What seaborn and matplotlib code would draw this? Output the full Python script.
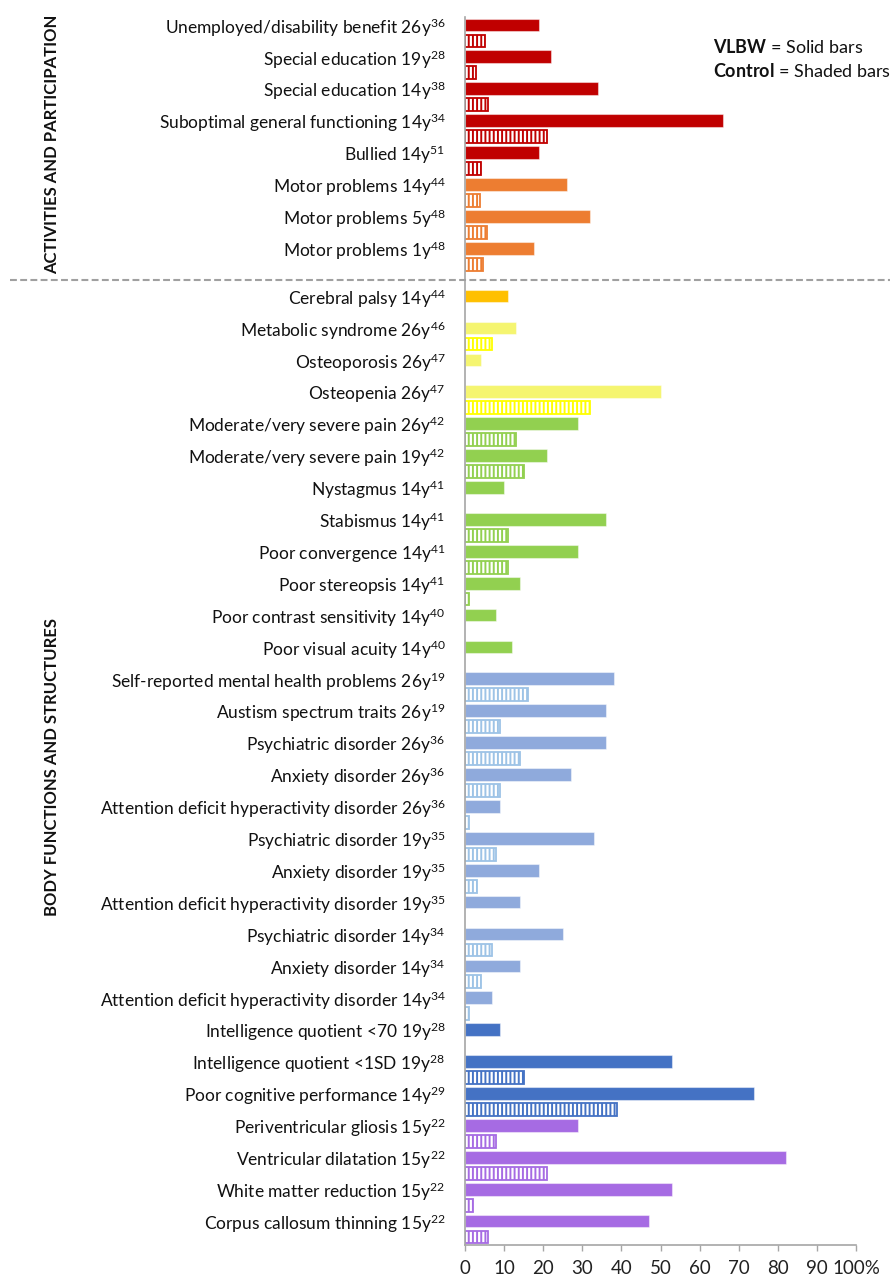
import numpy as np
import pandas as pd
import matplotlib
matplotlib.use("Agg")
import matplotlib.pyplot as plt
import matplotlib.transforms as mtransforms
from matplotlib.lines import Line2D
import seaborn as sns

# ---- data -------------------------------------------------------------
outcomes = [
    "Unemployed/disability benefit 26y", "Special education 19y", "Special education 14y",
    "Suboptimal general functioning 14y", "Bullied 14y", "Motor problems 14y",
    "Motor problems 5y", "Motor problems 1y", "Cerebral palsy 14y",
    "Metabolic syndrome 26y", "Osteoporosis 26y", "Osteopenia 26y",
    "Moderate/very severe pain 26y", "Moderate/very severe pain 19y", "Nystagmus 14y",
    "Stabismus 14y", "Poor convergence 14y", "Poor stereopsis 14y",
    "Poor contrast sensitivity 14y", "Poor visual acuity 14y",
    "Self-reported mental health problems 26y", "Austism spectrum traits 26y",
    "Psychiatric disorder 26y", "Anxiety disorder 26y",
    "Attention deficit hyperactivity disorder 26y", "Psychiatric disorder 19y",
    "Anxiety disorder 19y", "Attention deficit hyperactivity disorder 19y",
    "Psychiatric disorder 14y", "Anxiety disorder 14y",
    "Attention deficit hyperactivity disorder 14y", "Intelligence quotient <70 19y",
    "Intelligence quotient <1SD 19y", "Poor cognitive performance 14y",
    "Periventricular gliosis 15y", "Ventricular dilatation 15y",
    "White matter reduction 15y", "Corpus callosum thinning 15y",
]
references = [36, 28, 38, 34, 51, 44, 48, 48, 44, 46, 47, 47, 42, 42, 41, 41, 41, 41, 40, 40,
              19, 19, 36, 36, 36, 35, 35, 35, 34, 34, 34, 28, 28, 29, 22, 22, 22, 22]
vlbw = [19, 22, 34, 66, 19, 26, 32, 17.6, 11, 13, 4, 50, 29, 21, 10, 36, 29, 14, 8, 12,
        38, 36, 36, 27, 9, 33, 19, 14, 25, 14, 7, 9, 53, 74, 29, 82, 53, 47]
control = [5, 2.7, 6, 21, 4, 3.8, 5.7, 4.5, None, 7, None, 32, 13, 15, None, 11, 11, 1, None, None,
           16, 9, 14, 9, 1, 8, 3, None, 7, 4, 1, None, 15, 39, 8, 21, 2, 6]
sections = ["ACTIVITIES AND PARTICIPATION"] * 8 + ["BODY FUNCTIONS AND STRUCTURES"] * 30
domains = (["participation"] * 5 + ["motor"] * 3 + ["cerebral palsy"] + ["bone"] * 3
           + ["pain and vision"] * 8 + ["mental health"] * 11 + ["cognition"] * 3
           + ["brain imaging"] * 4)
groups = ["VLBW", "Control"]
x_ticks = [0, 10, 20, 30, 40, 50, 60, 70, 80, 90, 100]
x_tick_labels = ["0", "10", "20", "30", "40", "50", "60", "70", "80", "90", "100%"]

# fill colour of solid bars / stripe colour of shaded bars per domain
solid_colors = {
    "participation": "#C00000", "motor": "#ED7D31", "cerebral palsy": "#FFC000",
    "bone": "#F5F570", "pain and vision": "#92D050", "mental health": "#8FAADC",
    "cognition": "#4472C4", "brain imaging": "#A66BE3",
}
stripe_colors = {
    "participation": "#C00000", "motor": "#ED7D31", "cerebral palsy": "#FFC000",
    "bone": "#FFFF00", "pain and vision": "#92D050", "mental health": "#9DC3E6",
    "cognition": "#4472C4", "brain imaging": "#A66BE3",
}

# one row per bar: each outcome takes two rows (VLBW, then control),
# with one blank row between the two sections
section_names = list(dict.fromkeys(sections))
rows = []
for i, (name, v, c) in enumerate(zip(outcomes, vlbw, control)):
    base = 2 * i + section_names.index(sections[i])
    rows.append({"outcome": name, "idx": i, "group": "VLBW", "row": base, "pct": v})
    rows.append({"outcome": name, "idx": i, "group": "Control", "row": base + 1,
                 "pct": np.nan if c is None else c})
df = pd.DataFrame(rows)
n_rows = int(df["row"].max()) + 1

# ---- style ------------------------------------------------------------
sns.set_theme(style="white")
plt.rcParams["font.family"] = ["Lato", "DejaVu Sans"]
plt.rcParams["mathtext.fontset"] = "custom"
plt.rcParams["mathtext.rm"] = "Lato"
plt.rcParams["mathtext.it"] = "Lato:italic"
plt.rcParams["mathtext.bf"] = "Lato:bold"
plt.rcParams["hatch.linewidth"] = 1.4

W, H = 890, 1276
fig = plt.figure(figsize=(W / 100, H / 100), dpi=100)
ax = fig.add_axes([465 / W, 1 - 1245 / H, (856 - 465) / W, (1245 - 17) / H])

sns.barplot(data=df.dropna(subset=["pct"]), y="row", x="pct", hue="group",
            hue_order=groups, orient="h", native_scale=True, width=0.8, dodge=False,
            errorbar=None, legend=False, ax=ax)

# colour each bar by its outcome domain; control bars get vertical stripes
row_domain = dict(zip(df["row"], [domains[i] for i in df["idx"]]))
for container, grp in zip(ax.containers, groups):
    for patch in container:
        r = int(round(patch.get_y() + patch.get_height() / 2))
        dom = row_domain[r]
        if grp == "VLBW":
            patch.set_facecolor(solid_colors[dom])
            patch.set_edgecolor(matplotlib.colors.to_rgba("white", 0.45))
            patch.set_linewidth(0.8)
        else:
            patch.set_facecolor("white")
            patch.set_edgecolor(stripe_colors[dom])
            patch.set_hatch("||||")
            patch.set_linewidth(1.3)

# axes
ax.set_xlim(0, 100)
ax.set_ylim(n_rows - 0.5, -0.5)
ax.set_xticks(x_ticks, x_tick_labels, fontsize=13.5, color="#222222")
solid_rows = df.loc[df["group"] == "VLBW", "row"].to_numpy()
tick_text = [f"{n}$^{{{r}}}$" for n, r in zip(outcomes, references)]
ax.set_yticks(solid_rows, tick_text, fontsize=12.5, color="#111111")
ax.tick_params(axis="y", length=0, pad=14)
ax.tick_params(axis="x", length=4, width=1, color="#A6A6A6", pad=7, direction="out",
               bottom=True)
ax.set_xlabel("")
ax.set_ylabel("")
sns.despine(ax=ax, top=True, right=True)
for side in ("left", "bottom"):
    ax.spines[side].set_color("#A6A6A6")
    ax.spines[side].set_linewidth(1.2)

# dashed separator in the blank row between the two sections
sep_row = 2 * sections.count(section_names[0])
trans = mtransforms.blended_transform_factory(fig.transFigure, ax.transData)
fig.add_artist(Line2D([10 / W, 1.0], [sep_row, sep_row], transform=trans, color="#A0A0A0",
                      linewidth=1.5, dashes=(3.3, 1.6)))

# section titles, centred on their rows
for sec in section_names:
    sec_rows = df.loc[[sections[i] == sec for i in df["idx"]], "row"]
    y_mid = ax.transData.transform((0, (sec_rows.min() + sec_rows.max()) / 2))[1]
    fig.text(52 / W, fig.transFigure.inverted().transform((0, y_mid))[1], sec,
             rotation=90, ha="center", va="center", fontsize=12, fontweight="bold",
             color="#111111")

# key
fig.text(713 / W, 1 - 47 / H, r"$\mathbf{VLBW}$ = Solid bars", ha="left", va="center",
         fontsize=13, color="#111111")
fig.text(713 / W, 1 - 71 / H, r"$\mathbf{Control}$ = Shaded bars", ha="left", va="center",
         fontsize=13, color="#111111")

fig.savefig("out.png", dpi=100)
